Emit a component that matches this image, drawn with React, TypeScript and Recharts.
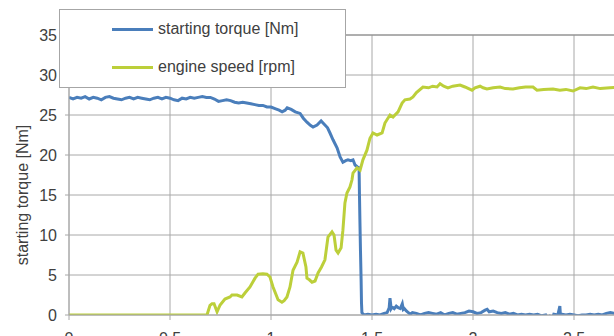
import React from 'react';
import { LineChart, Line, XAxis, YAxis, CartesianGrid, Legend, ReferenceLine, Label } from 'recharts';

const seriesNames = ['starting torque [Nm]', 'engine speed [rpm]'];
const seriesColors = ['#4a7ebb', '#bccf3a'];
const yAxisTitle = 'starting torque [Nm]';

const xTicks = [0, 0.5, 1, 1.5, 2, 2.5, 3];
const yTicks = [0, 5, 10, 15, 20, 25, 30, 35];

const torqueX = [
  0, 0.02, 0.04, 0.06, 0.08, 0.1, 0.12, 0.14, 0.16, 0.18, 0.2, 0.22, 0.24, 0.26, 0.28, 0.3, 0.32, 0.34, 0.36, 0.38,
  0.4, 0.42, 0.44, 0.46, 0.48, 0.5, 0.52, 0.54, 0.56, 0.58, 0.6, 0.62, 0.64, 0.66, 0.68, 0.7, 0.72, 0.74, 0.76, 0.78,
  0.8, 0.82, 0.84, 0.86, 0.88, 0.9, 0.92, 0.94, 0.96, 0.98, 1.0, 1.02, 1.04, 1.055, 1.07, 1.08, 1.1, 1.12, 1.144, 1.16,
  1.178, 1.195, 1.208, 1.228, 1.248, 1.267, 1.28, 1.292, 1.307, 1.327, 1.342, 1.356, 1.37, 1.381, 1.395, 1.406, 1.416, 1.428, 1.436,
  1.438, 1.44, 1.443, 1.446, 1.448, 1.45, 1.46, 1.48, 1.5, 1.52, 1.54, 1.56, 1.575, 1.585, 1.589, 1.595, 1.6, 1.61, 1.62,
  1.63, 1.64, 1.65, 1.655, 1.66, 1.67, 1.68, 1.69, 1.7, 1.72, 1.74, 1.76, 1.78, 1.8, 1.82, 1.84, 1.86, 1.88, 1.9, 1.92,
  1.94, 1.96, 1.98, 2.0, 2.02, 2.04, 2.06, 2.07, 2.08, 2.1, 2.12, 2.14, 2.16, 2.18, 2.2, 2.22, 2.24, 2.26, 2.28, 2.3,
  2.32, 2.34, 2.36, 2.37, 2.38, 2.39, 2.4, 2.42, 2.43, 2.435, 2.44, 2.46, 2.48, 2.5, 2.52, 2.54, 2.56, 2.58, 2.6, 2.62,
  2.64, 2.66, 2.68, 2.7, 2.75, 2.8, 2.85, 2.9, 2.95, 3.0,
];
const torqueY = [
  27.2, 27.0, 27.2, 27.1, 27.3, 27.0, 27.2, 27.1, 26.9, 27.2, 27.3, 27.1, 27.0, 26.9, 27.1, 27.2, 27.0, 27.2, 27.1, 27.0,
  26.9, 27.1, 27.2, 27.0, 27.2, 27.1, 26.9, 26.8, 27.1, 27.0, 27.2, 27.1, 27.2, 27.3, 27.2, 27.2, 27.0, 26.7, 26.8, 26.9,
  26.8, 26.6, 26.5, 26.6, 26.5, 26.4, 26.3, 26.2, 26.2, 26.0, 26.0, 25.8, 25.6, 25.4, 25.6, 25.9, 25.7, 25.4, 25.2, 24.6,
  24.1, 23.7, 23.5, 23.75, 24.25, 23.75, 23.4, 22.75, 21.9, 20.9, 19.75, 19.1, 19.3, 19.4, 19.3, 19.4, 18.75, 18.5, 18.4,
  15.0, 12.0, 8.0, 4.5, 1.5, 0.3, 0.0, 0.1, 0.0, 0.1, 0.0, 0.2, 0.3, 0.9, 2.1, 0.8, 1.0, 0.8, 1.1,
  0.9, 0.8, 1.4, 0.7, 0.8, 0.5, 0.3, 0.1, 0.3, 0.2, 0.0, 0.2, 0.3, 0.2, 0.1, 0.3, 0.0, 0.2, 0.3, 0.1,
  0.2, 0.3, 0.5, 0.4, 0.2, 0.3, 0.6, 0.7, 0.4, 0.5, 0.3, 0.2, 0.3, 0.1, 0.2, 0.0, 0.1, 0.0, 0.1, 0.0,
  0.1, -0.1, 0.0, -0.5, -0.2, -0.6, 0.1, 0.0, 1.1, -1.0, 0.1, 0.0, 0.1, 0.0, -0.1, 0.0, 0.0, 0.1, 0.0, 0.1,
  0.0, 0.2, 0.3, 0.2, 0.3, 0.2, 0.3, 0.2, 0.3, 0.2,
];

const speedX = [
  0, 0.683, 0.698, 0.708, 0.718, 0.733, 0.748, 0.772, 0.797, 0.807, 0.832, 0.856, 0.871, 0.896, 0.921, 0.936, 0.96, 0.98,
  0.995, 1.01, 1.035, 1.054, 1.065, 1.079, 1.094, 1.109, 1.129, 1.144, 1.158, 1.173, 1.178, 1.19, 1.203, 1.218, 1.233, 1.25,
  1.267, 1.282, 1.302, 1.312, 1.322, 1.332, 1.347, 1.356, 1.366, 1.376, 1.391, 1.401, 1.406, 1.426, 1.441, 1.455, 1.475, 1.49,
  1.505, 1.525, 1.55, 1.564, 1.589, 1.604, 1.629, 1.649, 1.663, 1.688, 1.703, 1.72, 1.752, 1.78, 1.8, 1.822, 1.837, 1.855,
  1.876, 1.9, 1.936, 1.96, 1.995, 2.01, 2.035, 2.05, 2.069, 2.1, 2.134, 2.16, 2.198, 2.23, 2.26, 2.297, 2.317, 2.35,
  2.396, 2.43, 2.46, 2.495, 2.53, 2.56, 2.594, 2.63, 2.678, 2.72, 2.78, 2.84, 2.9, 2.96, 3.0,
];
const speedY = [
  0, 0, 1.2, 1.4, 1.4, 0.4, 1.25, 2.0, 2.25, 2.5, 2.5, 2.25, 2.75, 3.5, 4.6, 5.1, 5.15, 5.1,
  4.75, 3.5, 1.9, 1.6, 1.8, 2.25, 3.5, 5.6, 6.6, 7.9, 7.75, 6.0, 4.6, 4.4, 4.1, 4.25, 5.25, 6.0,
  6.9, 9.75, 10.4, 10.0, 8.1, 7.75, 8.4, 10.6, 14.0, 15.25, 16.0, 16.9, 17.75, 18.4, 18.1, 19.4, 20.6, 22.1,
  22.75, 22.5, 22.75, 24.0, 25.0, 24.75, 25.4, 26.5, 26.9, 27.0, 27.25, 27.8, 28.5, 28.4, 28.6, 28.5, 28.9, 28.6,
  28.4, 28.6, 28.75, 28.5, 28.1, 28.4, 28.6, 28.4, 28.25, 28.4, 28.5, 28.3, 28.25, 28.4, 28.5, 28.5, 28.1, 28.2,
  28.25, 28.1, 28.2, 28.0, 28.4, 28.3, 28.5, 28.3, 28.4, 28.5, 28.3, 28.4, 28.5, 28.4, 28.4,
];

const torqueData = torqueX.map((x, i) => ({ x, v: torqueY[i] }));
const speedData = speedX.map((x, i) => ({ x, v: speedY[i] }));

const FONT = '"Liberation Sans", Arial, sans-serif';
const TEXT = '#404040';
const GRID = '#a8a8a8';

const LegendBox = (props: any) => {
  const payload = [...(props.payload || [])].sort(
    (a: any, b: any) => seriesNames.indexOf(a.value) - seriesNames.indexOf(b.value)
  );
  return (
    <div
      style={{
        position: 'relative',
        width: 285,
        height: 77,
        background: '#fff',
        border: '1px solid #a6a6a6',
        fontFamily: FONT,
        fontSize: 16,
        color: TEXT,
      }}
    >
      {payload.map((p: any, i: number) => (
        <div key={i} style={{ position: 'absolute', left: 52, top: 8 + i * 38, height: 22, display: 'flex', alignItems: 'center' }}>
          <div style={{ width: 41, height: 3, background: p.color }} />
          <span style={{ marginLeft: 5, whiteSpace: 'nowrap' }}>{p.value}</span>
        </div>
      ))}
    </div>
  );
};

const YTitle = () => (
  <text
    x={22}
    y={195}
    transform="rotate(-90, 22, 195)"
    textAnchor="middle"
    dominantBaseline="central"
    fontFamily={FONT}
    fontSize={16}
    fill={TEXT}
  >
    {yAxisTitle}
  </text>
);

export default function App() {
  return (
    <div style={{ position: 'absolute', left: 0, top: 0, width: 614, height: 336, overflow: 'hidden', background: '#fff' }}>
      <LineChart width={700} height={360} margin={{ top: 35, right: 25, bottom: 0, left: 0 }}>
        <CartesianGrid stroke={GRID} strokeWidth={1} />
        <XAxis
          type="number"
          dataKey="x"
          domain={[0, 3]}
          ticks={xTicks}
          allowDataOverflow
          height={45}
          tickSize={5}
          tickMargin={13}
          axisLine={{ stroke: GRID }}
          tickLine={{ stroke: GRID }}
          tick={{ fontFamily: FONT, fontSize: 16, fill: TEXT }}
        />
        <YAxis
          type="number"
          domain={[0, 35]}
          ticks={yTicks}
          allowDataOverflow
          width={69}
          tickSize={4}
          tickMargin={8}
          axisLine={{ stroke: GRID }}
          tickLine={{ stroke: GRID }}
          tick={{ fontFamily: FONT, fontSize: 16, fill: TEXT }}
        >
          <Label content={<YTitle />} />
        </YAxis>
        <ReferenceLine y={35} stroke="#8a8a8a" strokeWidth={1} />
        <Line
          data={torqueData}
          dataKey="v"
          name={seriesNames[0]}
          type="linear"
          stroke={seriesColors[0]}
          strokeWidth={3}
          dot={false}
          isAnimationActive={false}
        />
        <Line
          data={speedData}
          dataKey="v"
          name={seriesNames[1]}
          type="linear"
          stroke={seriesColors[1]}
          strokeWidth={3}
          dot={false}
          isAnimationActive={false}
        />
        <Legend
          layout="horizontal"
          align="center"
          verticalAlign="middle"
          content={<LegendBox />}
          wrapperStyle={{ position: 'absolute', left: 59, top: 9, width: 287, height: 79 }}
        />
      </LineChart>
    </div>
  );
}
